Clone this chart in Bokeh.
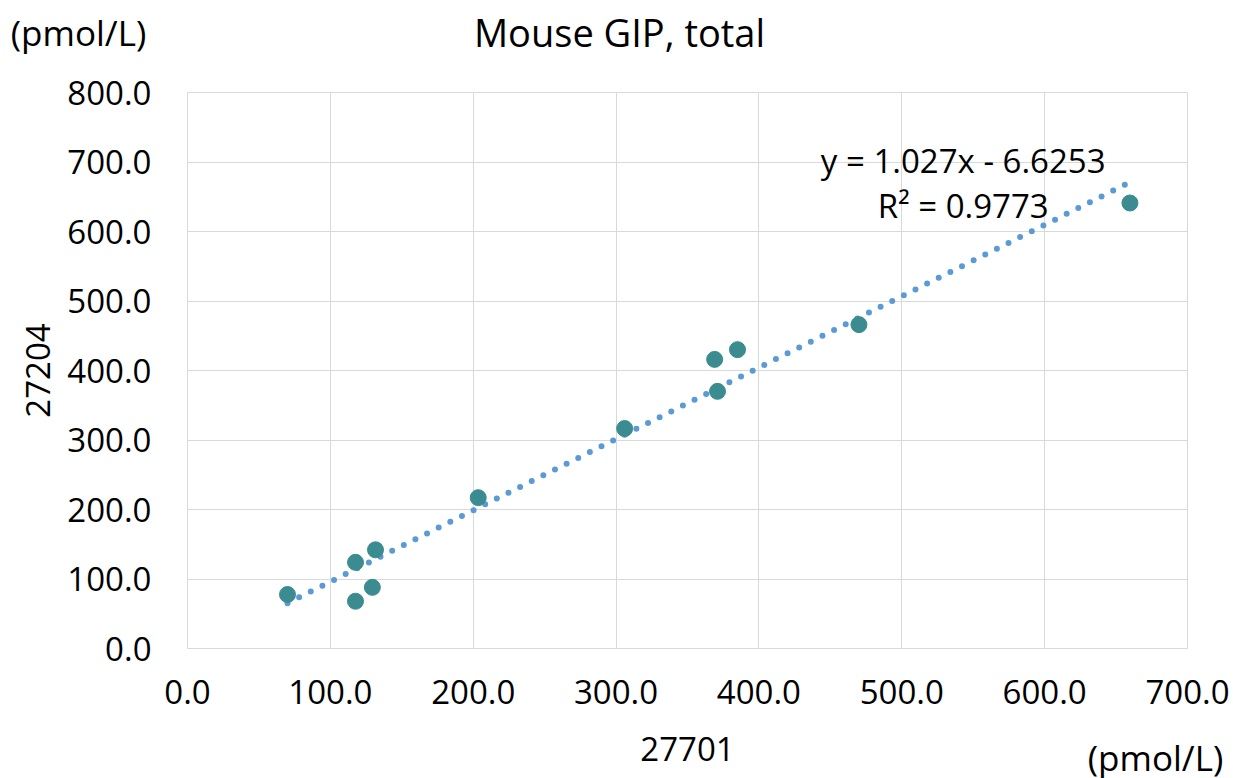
from bokeh.plotting import figure
from bokeh.models import Range1d, FixedTicker, NumeralTickFormatter, Label
from bokeh.layouts import column
from bokeh.core.properties import value
from bokeh.embed import file_html
from bokeh.resources import INLINE

x_27701 = [70.0, 117.6, 117.6, 129.4, 131.6, 203.5, 306.0, 369.0, 371.0, 385.0, 470.0, 659.7]
y_27204 = [77.7, 68.0, 124.0, 88.0, 142.0, 217.0, 316.5, 416.0, 370.0, 430.0, 466.0, 641.0]
slope = 1.027
intercept = -6.6253
r2 = 0.9773
x_ticks = [0, 100, 200, 300, 400, 500, 600, 700]
y_ticks = [0, 100, 200, 300, 400, 500, 600, 700, 800]
title_text = "Mouse GIP, total"
unit_text = "(pmol/L)"
x_label = "27701"
y_label = "27204"

FONT = "Open Sans"
W = 1233
TOP_H, MAIN_H, BOT_H = 70, 650, 58


def strip(h):
    s = figure(width=W, height=h, output_backend="svg", toolbar_location=None,
               x_range=Range1d(0, W), y_range=Range1d(0, h),
               x_axis_type=None, y_axis_type=None, frame_align=False,
               min_border_left=0, min_border_right=0, min_border_top=0, min_border_bottom=0)
    s.outline_line_color = None
    s.grid.visible = False
    s.background_fill_color = "white"
    s.border_fill_color = "white"
    return s


def stext(s, x, y, text, size):
    s.text(x=[x], y=[y], text=[text], text_font=value(FONT), text_font_size=size,
           text_align="center", text_baseline="middle", text_color="black")


# top strip: title and y unit
top = strip(TOP_H)
stext(top, 619, TOP_H - 31, title_text, "38px")
stext(top, 78, TOP_H - 32, unit_text, "35px")

# main chart
p = figure(width=W, height=MAIN_H, output_backend="svg", toolbar_location=None,
           x_range=Range1d(0, 700), y_range=Range1d(0, 800), frame_align=False,
           min_border_left=187, min_border_right=46, min_border_top=22, min_border_bottom=72)
p.background_fill_color = "white"
p.border_fill_color = "white"
p.outline_line_color = "#D9D9D9"
p.outline_line_width = 1

for ax, ticks in ((p.xaxis, x_ticks), (p.yaxis, y_ticks)):
    ax.ticker = FixedTicker(ticks=ticks)
    ax.formatter = NumeralTickFormatter(format="0.0")
    ax.major_tick_line_color = None
    ax.minor_tick_line_color = None
    ax.axis_line_color = None
    ax.major_label_text_font = FONT
    ax.major_label_text_font_size = "33px"
    ax.major_label_text_color = "black"
p.xaxis.major_label_standoff = 25
p.yaxis.major_label_standoff = 30
p.yaxis.axis_label = y_label
p.yaxis.axis_label_text_font = FONT
p.yaxis.axis_label_text_font_size = "33px"
p.yaxis.axis_label_text_font_style = "normal"
p.yaxis.axis_label_text_color = "black"
p.yaxis.axis_label_standoff = 14
p.xgrid.ticker = FixedTicker(ticks=x_ticks)
p.ygrid.ticker = FixedTicker(ticks=y_ticks)
p.xgrid.grid_line_color = "#D9D9D9"
p.ygrid.grid_line_color = "#D9D9D9"

# trendline from the stated fit, over the data's x extent
xmin, xmax = min(x_27701), max(x_27701)
tx = [xmin, xmax]
ty = [slope * v + intercept for v in tx]
p.line(tx, ty, line_color="#5B9BD5", line_width=6, line_dash="0 13", line_cap="round")

p.scatter(x_27701, y_27204, size=16, fill_color="#3A8C90", line_color="#3A8C90")

for txt, yy in ((f"y = {slope}x - {abs(intercept)}", 702), (f"R\u00b2 = {r2}", 637)):
    p.add_layout(Label(x=543, y=yy, text=txt, text_font=FONT, text_font_size="33px",
                       text_align="center", text_baseline="middle", text_color="black"))

# bottom strip: x label and x unit
bot = strip(BOT_H)
stext(bot, 687, BOT_H - 28, x_label, "33px")
stext(bot, 1155, BOT_H - 37, unit_text, "35px")

layout = column(top, p, bot, spacing=0)
open("out.html", "w").write(file_html(layout, INLINE))
